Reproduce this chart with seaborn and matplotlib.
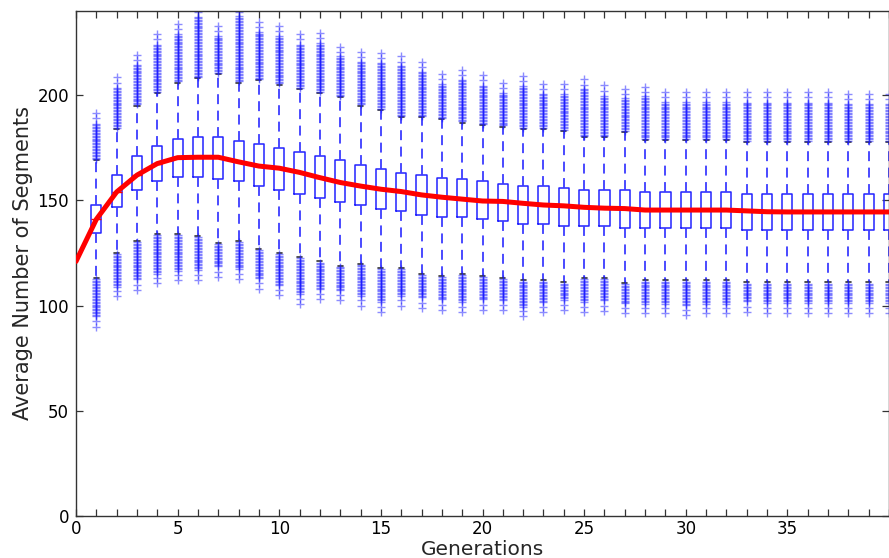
import numpy as np
import matplotlib
matplotlib.use("Agg")
import matplotlib.pyplot as plt
import seaborn as sns

# Generation index of each box
generations = list(range(1, 41))

# Median of the population average per generation (generation 0 is the start value)
median_line = [121.0, 141.0, 154.0, 162.0, 167.5, 170.3, 170.5, 170.5, 168.3, 166.3,
               165.3, 163.3, 160.8, 158.5, 156.8, 155.3, 154.2, 152.6, 151.5, 150.6,
               149.7, 149.5, 148.6, 147.8, 147.4, 146.7, 146.3, 146.1, 145.4, 145.4,
               145.4, 145.4, 145.4, 145.0, 144.6, 144.5, 144.5, 144.5, 144.5, 144.5,
               144.5]

# Quartiles
q1 = [134.4, 147, 155, 159, 161, 161, 160, 159, 157, 155,
      153, 151, 149, 148, 146, 145, 143, 142, 142, 141,
      140, 139, 139, 138, 138, 138, 137, 137, 137, 137,
      137, 137, 136, 136, 136, 136, 136, 136, 136, 136]
q3 = [147.7, 162, 171, 176, 179, 180, 180, 178, 177, 175,
      173, 171, 169, 167, 165, 163, 162, 160.5, 160, 159,
      158, 157, 157, 156, 155, 155, 155, 154, 154, 154,
      154, 154, 153, 153, 153, 153, 153, 153, 153, 153]

# Whisker ends
whisker_hi = [169, 184, 195, 201, 206, 208, 210, 206, 207, 205,
              203, 201, 199, 195, 193, 189.5, 189.5, 188.5, 187, 185.7,
              185, 184, 184, 183, 180, 180, 182.5, 178.6, 178.6, 178.6,
              178.6, 178.6, 177.7, 177.7, 177.7, 177.7, 177.7, 177.7, 177.7, 177.7]
whisker_lo = [113, 125, 130.6, 134, 134, 133, 129.7, 130.6, 126.8, 125,
              123, 121, 119, 120, 117.8, 117.8, 115, 114, 115, 114,
              113, 112, 112, 111, 113, 113, 110.7, 112, 112, 112,
              112, 112, 111, 111, 111, 111, 111, 111, 111, 111]

# Extreme outliers
outlier_max = [191.5, 208.5, 219, 229, 234, 242, 233, 242, 235, 233,
               229, 229.5, 223, 220.5, 220, 218.5, 216, 210, 212, 209.5,
               206, 209, 205.5, 205.5, 207.5, 204.7, 203, 204, 201.5, 201.5,
               201.5, 201.5, 201.5, 201.5, 201.5, 201.5, 201.5, 200.5, 200.5, 200.5]
outlier_min = [90, 104.5, 107.4, 110.7, 112, 112, 113.5, 112.6, 108, 105,
               100.7, 103, 102.6, 100, 97, 100, 98.8, 98, 97, 98,
               98, 95, 97, 98, 97, 97.5, 96.4, 96.4, 96.4, 95.5,
               96.4, 96.4, 97, 96.4, 96.4, 96.4, 96.4, 96.4, 96.4, 96.4]

x_ticklabels = ["0", "5", "10", "15", "20", "25", "30", "35"]
y_ticks = [0, 50, 100, 150, 200]

sns.set_style("ticks")
plt.rcParams["font.family"] = ["DejaVu Sans"]
plt.rcParams["xtick.direction"] = "in"
plt.rcParams["ytick.direction"] = "in"

fig = plt.figure(figsize=(8.89, 5.58), dpi=100)
ax = fig.add_axes([76 / 889, 42 / 558, 813 / 889, 505 / 558])


def outlier_column(edge, extreme, sign):
    # dense stack of outliers next to the whisker, thinning out towards the extreme
    dense = np.arange(edge + sign * 0.6, extreme - sign * 4.5, sign * 0.7)
    return np.concatenate([dense, [extreme - sign * 2.5, extreme]])


stats = []
for i, g in enumerate(generations):
    fl = np.concatenate([outlier_column(whisker_hi[i], outlier_max[i], 1),
                         outlier_column(whisker_lo[i], outlier_min[i], -1)])
    stats.append(dict(med=median_line[g], q1=q1[i], q3=q3[i],
                      whislo=whisker_lo[i], whishi=whisker_hi[i], fliers=fl))

ax.bxp(stats, positions=generations, widths=0.5, capwidths=0.25,
       boxprops=dict(color="#2222ff", lw=1.1),
       whiskerprops=dict(color="#3c3cff", lw=1.3, linestyle=(0, (5.5, 3.6))),
       capprops=dict(color="#333333", lw=1.2),
       medianprops=dict(color="red", lw=1),
       flierprops=dict(marker="+", markeredgecolor="#1a1aff", markersize=6,
                       markeredgewidth=1.0, alpha=0.5, linestyle="none"),
       manage_ticks=False)

sns.lineplot(x=list(range(0, 41)), y=median_line, color="red", lw=3.6,
             ax=ax, zorder=5)

ax.set_xlim(0, 40)
ax.set_ylim(0, 240)
ax.set_xticks(range(0, 41))
ax.set_xticklabels([x_ticklabels[k // 5] if (k % 5 == 0 and k < 40) else ""
                    for k in range(0, 41)])
ax.set_yticks(y_ticks)
ax.set_yticklabels([str(v) for v in y_ticks])
ax.tick_params(axis="both", which="both", top=True, right=True, length=5,
               width=0.9, color="#333333", labelsize=12, labelcolor="black")
ax.tick_params(axis="x", pad=3)
ax.tick_params(axis="y", pad=5)
for s in ax.spines.values():
    s.set_color("#333333")
    s.set_linewidth(1.0)

ax.set_xlabel("Generations", fontsize=14.5, labelpad=1)
ax.set_ylabel("Average Number of Segments", fontsize=15, labelpad=3)

fig.savefig("out.png", dpi=100)
